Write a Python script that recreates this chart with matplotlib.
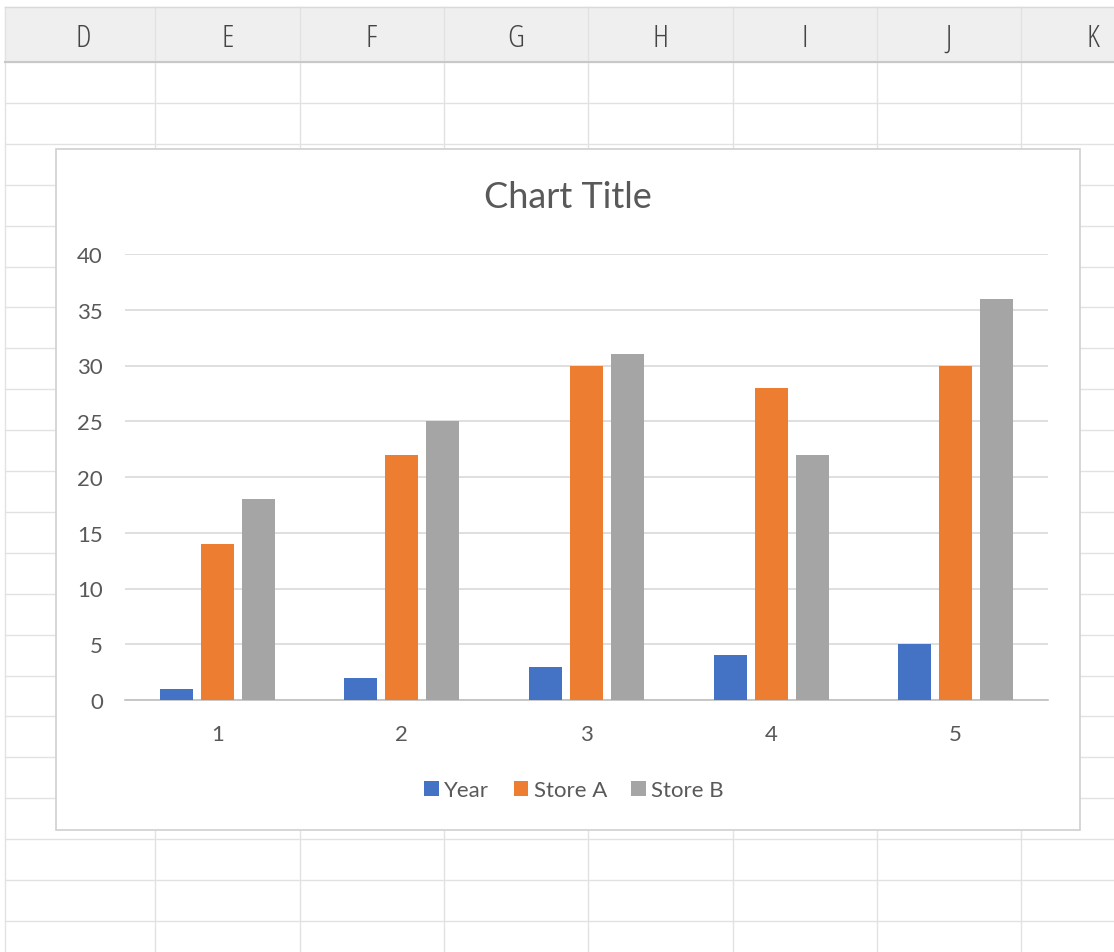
import matplotlib
matplotlib.use("Agg")
import matplotlib.pyplot as plt
import numpy as np
from matplotlib.patches import Rectangle

# ---- data ----
categories = [1, 2, 3, 4, 5]
year = [1, 2, 3, 4, 5]
store_a = [14, 22, 30, 28, 30]
store_b = [18, 25, 31, 22, 36]
series_names = ["Year", "Store A", "Store B"]
colors = ["#4472C4", "#ED7D31", "#A5A5A5"]
col_letters = ["D", "E", "F", "G", "H", "I", "J", "K"]
yticks = [0, 5, 10, 15, 20, 25, 30, 35, 40]

W, H = 1114, 953
fig = plt.figure(figsize=(W / 100, H / 100), dpi=100)
plt.rcParams["font.family"] = ["Lato", "DejaVu Sans"]
txt = "#595959"

# ---- spreadsheet background ----
bg = fig.add_axes([0, 0, 1, 1])
bg.set_xlim(0, W)
bg.set_ylim(H, 0)
bg.axis("off")
bg.add_patch(Rectangle((0, 0), W, H, color="white", zorder=0))
bg.add_patch(Rectangle((5, 8), W, 55, color="#EFEFEF", zorder=1))
bg.plot([5, W], [8, 8], color="#DADADA", lw=1, zorder=2)
bg.plot([5, W], [63, 63], color="#C8C8C8", lw=1.5, zorder=2)
col_x = [5 + 144.3 * i + 6 for i in range(8)]
col_x[0] = 5
for i, cx in enumerate(col_x):
    bg.plot([cx, cx], [8, H], color="#E2E2E2", lw=1, zorder=1)
for i, L in enumerate(col_letters):
    cx = 83 + 144.3 * i
    bg.text(cx, 39, L, ha="center", va="center", fontsize=23, color="#444444",
            family=["Open Sans", "DejaVu Sans"], fontweight="light",
            fontstretch="condensed", zorder=3)
for r in range(1, 23):
    ry = 63 + 40.9 * r
    if ry < H:
        bg.plot([5, W], [ry, ry], color="#E2E2E2", lw=1, zorder=1)

# chart box
bg.add_patch(Rectangle((56, 150), 1024, 681, facecolor="white",
                       edgecolor="#D0D0D0", lw=1.2, zorder=4))

# ---- chart ----
ax = fig.add_axes([125 / W, 1 - 701 / H, 923 / W, 446 / H])
ax.set_zorder(5)
ax.patch.set_alpha(0)
x = np.array(categories, dtype=float)
step = 0.222
bw = 0.179
vals = [year, store_a, store_b]
handles = []
for k, (v, c, n) in enumerate(zip(vals, colors, series_names)):
    b = ax.bar(x + (k - 1) * step, v, width=bw, color=c, label=n, zorder=3)
    handles.append(b)
ax.set_xlim(0.5, 5.5)
ax.set_ylim(0, 40)
ax.set_yticks(yticks)
ax.set_xticks(categories)
ax.yaxis.grid(True, color="#D9D9D9", lw=1.2)
ax.set_axisbelow(True)
for s in ["top", "right", "left"]:
    ax.spines[s].set_visible(False)
ax.spines["bottom"].set_color("#BFBFBF")
ax.spines["bottom"].set_linewidth(1.2)
ax.tick_params(axis="both", length=0, labelsize=16, labelcolor=txt)
ax.tick_params(axis="y", pad=16)
ax.tick_params(axis="x", pad=17)

fig.text(568 / W, 1 - 198 / H, "Chart Title", ha="center", va="center",
         fontsize=26, color=txt, zorder=6)

leg = fig.legend(handles=handles, labels=series_names, loc="center",
                 bbox_to_anchor=(574 / W, 1 - 791 / H), ncol=3, frameon=False,
                 fontsize=16, handlelength=0.65, handleheight=0.65,
                 handletextpad=0.25, columnspacing=1.1, labelcolor=txt)
leg.set_zorder(6)

fig.savefig("out.png", dpi=100)
